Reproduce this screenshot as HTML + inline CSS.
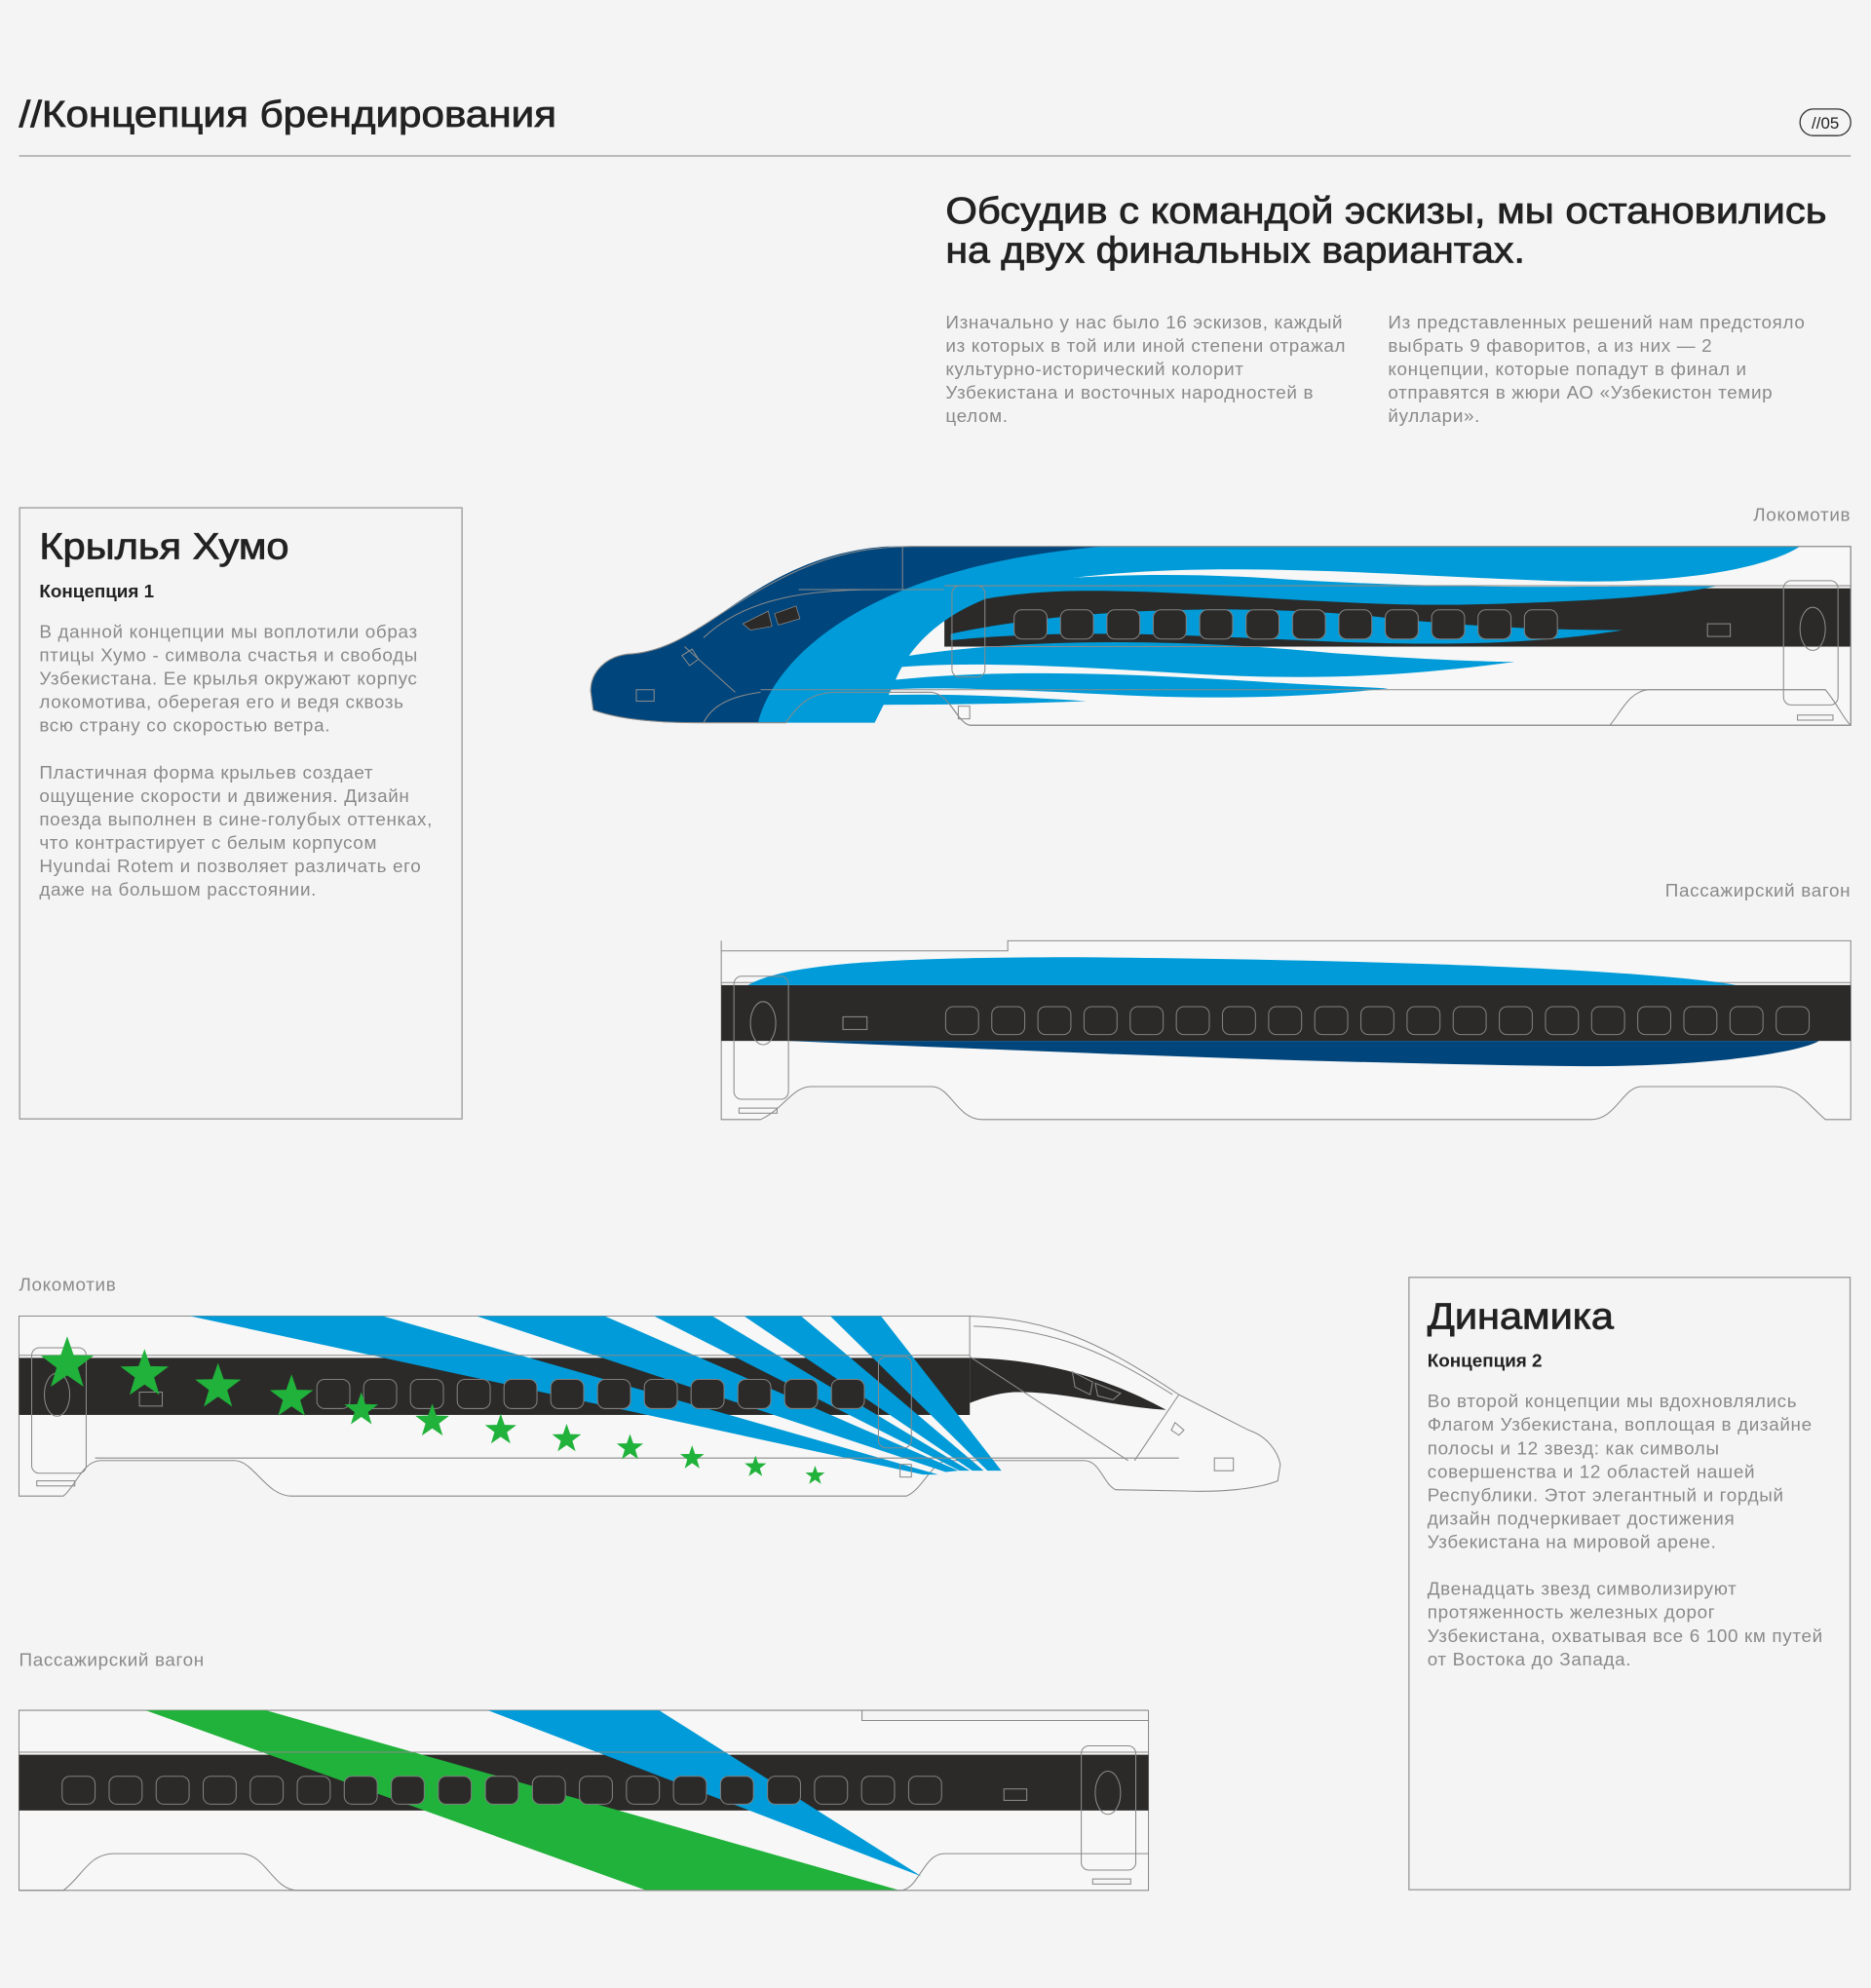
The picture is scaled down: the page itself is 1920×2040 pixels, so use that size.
<!DOCTYPE html>
<html><head><meta charset="utf-8"><style>
html,body{margin:0;padding:0;background:#f4f4f4;}
svg{display:block}
text{font-family:"Liberation Sans",sans-serif;}
.b{font-size:14.5px;fill:#8a8a8a;letter-spacing:0.5px}
.h{stroke:#222;stroke-width:0.6}
.o{fill:none;stroke:#8a8a8a;stroke-width:0.8}
.w{fill:#2b2a29;stroke:#808080;stroke-width:0.8}
</style></head><body>
<svg width="1920" height="2040" viewBox="0 0 1476 1568" preserveAspectRatio="none" xmlns="http://www.w3.org/2000/svg">
<defs>
<path id="st" d="M0,-1 L.235,-.324 L.951,-.309 L.380,.124 L.588,.809 L0,.4 L-.588,.809 L-.380,.124 L-.951,-.309 L-.235,-.324Z" fill="#20b23a"/>
</defs>
<rect width="1476" height="1568" fill="#f4f4f4"/>
<text x="15" y="100" font-size="29" fill="#222" class="h" textLength="424" lengthAdjust="spacingAndGlyphs">//Концепция брендирования</text>
<line x1="15" y1="123" x2="1460" y2="123" stroke="#999" stroke-width="1"/>
<rect x="1420" y="86" width="40" height="21" rx="10.5" fill="none" stroke="#333" stroke-width="1"/>
<text x="1440" y="101.5" font-size="13" fill="#222" text-anchor="middle">//05</text>
<text x="746" y="176" font-size="29" fill="#222" class="h" textLength="695" lengthAdjust="spacingAndGlyphs">Обсудив с командой эскизы, мы остановились</text>
<text x="746" y="207" font-size="29" fill="#222" class="h" textLength="457" lengthAdjust="spacingAndGlyphs">на двух финальных вариантах.</text>
<g class="b">
<text x="746" y="259">Изначально у нас было 16 эскизов, каждый</text>
<text x="746" y="277.5">из которых в той или иной степени отражал</text>
<text x="746" y="296">культурно-исторический колорит</text>
<text x="746" y="314.5">Узбекистана и восточных народностей в</text>
<text x="746" y="333">целом.</text>
<text x="1095" y="259">Из представленных решений нам предстояло</text>
<text x="1095" y="277.5">выбрать 9 фаворитов, а из них — 2</text>
<text x="1095" y="296">концепции, которые попадут в финал и</text>
<text x="1095" y="314.5">отправятся в жюри АО «Узбекистон темир</text>
<text x="1095" y="333">йуллари».</text>
</g>
<rect x="15.5" y="400.5" width="349" height="482" fill="none" stroke="#999" stroke-width="1"/>
<text x="31" y="441" font-size="29" fill="#222" class="h" textLength="197" lengthAdjust="spacingAndGlyphs">Крылья Хумо</text>
<text x="31" y="471" font-size="14.5" fill="#222" style="font-weight:600">Концепция 1</text>
<g class="b">
<text x="31" y="503">В данной концепции мы воплотили образ</text>
<text x="31" y="521.5">птицы Хумо - символа счастья и свободы</text>
<text x="31" y="540">Узбекистана. Ее крылья окружают корпус</text>
<text x="31" y="558.5">локомотива, оберегая его и ведя сквозь</text>
<text x="31" y="577">всю страну со скоростью ветра.</text>
<text x="31" y="614">Пластичная форма крыльев создает</text>
<text x="31" y="632.5">ощущение скорости и движения. Дизайн</text>
<text x="31" y="651">поезда выполнен в сине-голубых оттенках,</text>
<text x="31" y="669.5">что контрастирует с белым корпусом</text>
<text x="31" y="688">Hyundai Rotem и позволяет различать его</text>
<text x="31" y="706.5">даже на большом расстоянии.</text>
</g>
<rect x="1111.5" y="1007.5" width="348" height="483" fill="none" stroke="#999" stroke-width="1"/>
<text x="1126" y="1048" font-size="29" fill="#222" class="h" textLength="147" lengthAdjust="spacingAndGlyphs">Динамика</text>
<text x="1126" y="1078" font-size="14.5" fill="#222" style="font-weight:600">Концепция 2</text>
<g class="b">
<text x="1126" y="1110">Во второй концепции мы вдохновлялись</text>
<text x="1126" y="1128.5">Флагом Узбекистана, воплощая в дизайне</text>
<text x="1126" y="1147">полосы и 12 звезд: как символы</text>
<text x="1126" y="1165.5">совершенства и 12 областей нашей</text>
<text x="1126" y="1184">Республики. Этот элегантный и гордый</text>
<text x="1126" y="1202.5">дизайн подчеркивает достижения</text>
<text x="1126" y="1221">Узбекистана на мировой арене.</text>
<text x="1126" y="1258">Двенадцать звезд символизируют</text>
<text x="1126" y="1276.5">протяженность железных дорог</text>
<text x="1126" y="1295">Узбекистана, охватывая все 6 100 км путей</text>
<text x="1126" y="1313.5">от Востока до Запада.</text>
</g>
<text class="b" x="1460" y="411" text-anchor="end">Локомотив</text>
<text class="b" x="1460" y="707" text-anchor="end">Пассажирский вагон</text>
<text class="b" x="15" y="1018">Локомотив</text>
<text class="b" x="15" y="1314">Пассажирский вагон</text>

<!-- LOCO 1 -->
<g>
<path d="M1460 431 L720 431 C660 431 620 450 560 490 C540 503 520 515 495 516 C478 518 466 530 466 545 L468 560 C490 568 520 570 550 570 L620 570 C630 555 640 546 660 546 L735 546 C750 548 755 570 765 572 L1460 572 Z" fill="#f7f7f7" stroke="#8a8a8a" stroke-width="0.8"/>
<path d="M1270 572 C1280 560 1285 546 1300 544 L1440 544 C1450 556 1455 568 1460 572" class="o"/>
<rect x="745" y="464" width="715" height="46" fill="#2b2a29"/>
<path d="M466 545 C466 530 478 518 495 516 C520 515 540 503 560 490 C600 462 640 435 700 431 L880 431 C760 458 650 510 600 570 L550 570 C520 570 490 568 468 560 Z" fill="#00457c"/>
<path d="M598 570 C612 515 690 446 870 431 L1420 431 C1395 447 1330 462 1220 458 C1100 454 950 440 830 458 C760 470 720 500 705 540 L690 570 Z" fill="#009bd8"/>
<path d="M745 470 C800 455 900 450 1000 456 C1150 466 1280 462 1355 462 C1320 470 1250 475 1150 477 C1050 478 950 466 860 466 C810 466 770 472 745 480 Z" fill="#009bd8"/>
<path d="M750 500 C850 478 1000 476 1100 488 C1180 496 1240 497 1280 497 C1220 507 1150 510 1050 506 C950 502 850 495 750 505 Z" fill="#009bd8"/>
<path d="M690 522 C800 500 950 505 1050 515 C1120 520 1170 522 1195 522 C1120 532 1050 537 950 532 C850 526 760 520 690 528 Z" fill="#009bd8"/>
<path d="M675 540 C780 525 900 532 1000 538 C1050 541 1080 542 1095 543 C1030 550 960 552 880 548 C800 544 720 540 675 546 Z" fill="#009bd8"/>
<path d="M640 552 C700 545 780 548 857 553 C780 556 700 556 640 556 Z" fill="#009bd8"/>
<path d="M1460 431 L720 431 C660 431 620 450 560 490 C540 503 520 515 495 516 C478 518 466 530 466 545 L468 560 C490 568 520 570 550 570 L620 570 C630 555 640 546 660 546 L735 546 C750 548 755 570 765 572 L1460 572 Z" class="o"/>
<path d="M600 544 L1440 544 M745 462 L1460 462 M745 510 L1460 510 M712 431 L712 465 M630 465 L745 465 M555 503 C590 470 640 465 700 465 M540 510 L580 546 M600 546 C570 550 560 560 555 570" class="o"/>
<rect x="1407" y="458" width="43" height="98" rx="6" class="o"/>
<ellipse cx="1430" cy="496" rx="10" ry="17" class="o"/>
<rect x="1347" y="492" width="18" height="10" class="o"/>
<rect x="751" y="462" width="26" height="72" rx="6" class="o"/>
<rect x="502" y="544" width="14" height="9" class="o"/>
<rect x="1418" y="564" width="28" height="4" class="o"/>
<rect x="756" y="557" width="9" height="10" class="o"/>
<path d="M586 492 L606 482 L609 494 L592 497 Z M611 484 L628 478 L631 488 L614 493 Z" fill="#2b2a29" stroke="#888" stroke-width="0.6"/>
<path d="M538 517 L546 512 L551 520 L544 525 Z" class="o"/>
<g class="w">
<rect x="800" y="481" width="26" height="23" rx="6"/><rect x="836.6" y="481" width="26" height="23" rx="6"/><rect x="873.2" y="481" width="26" height="23" rx="6"/><rect x="909.8" y="481" width="26" height="23" rx="6"/><rect x="946.4" y="481" width="26" height="23" rx="6"/><rect x="983" y="481" width="26" height="23" rx="6"/><rect x="1019.6" y="481" width="26" height="23" rx="6"/><rect x="1056.2" y="481" width="26" height="23" rx="6"/><rect x="1092.8" y="481" width="26" height="23" rx="6"/><rect x="1129.4" y="481" width="26" height="23" rx="6"/><rect x="1166" y="481" width="26" height="23" rx="6"/><rect x="1202.6" y="481" width="26" height="23" rx="6"/>
</g>
</g>

<!-- WAGON 1 -->
<g>
<path d="M569 750 L795 750 L795 742 L1460 742 L1460 883 L1440 883 C1425 870 1418 857 1400 857 L1295 857 C1280 857 1275 883 1255 883 L775 883 C755 883 750 857 735 857 L640 857 C625 857 618 875 600 883 L569 883 Z" fill="#f7f7f7" stroke="#8a8a8a" stroke-width="0.8"/>
<line x1="569" y1="742" x2="569" y2="750" class="o"/>
<line x1="569" y1="775" x2="1460" y2="775" class="o"/>
<rect x="569" y="777" width="891" height="44" fill="#2b2a29"/>
<path d="M590 777 C620 760 700 755 850 755 C1100 757 1300 765 1370 777 Z" fill="#009bd8"/>
<path d="M620 821 C800 828 1000 838 1250 841 C1350 841 1420 830 1435 821 Z" fill="#00457c"/>
<rect x="579" y="770" width="43" height="97" rx="6" class="o"/>
<ellipse cx="602" cy="807" rx="10" ry="17" class="o"/>
<rect x="665" y="802" width="19" height="10" class="o"/>
<rect x="583" y="874" width="30" height="4" class="o"/>
<g class="w">
<rect x="746" y="794" width="26" height="22" rx="6"/><rect x="782.4" y="794" width="26" height="22" rx="6"/><rect x="818.8" y="794" width="26" height="22" rx="6"/><rect x="855.2" y="794" width="26" height="22" rx="6"/><rect x="891.6" y="794" width="26" height="22" rx="6"/><rect x="928" y="794" width="26" height="22" rx="6"/><rect x="964.4" y="794" width="26" height="22" rx="6"/><rect x="1000.8" y="794" width="26" height="22" rx="6"/><rect x="1037.2" y="794" width="26" height="22" rx="6"/><rect x="1073.6" y="794" width="26" height="22" rx="6"/><rect x="1110" y="794" width="26" height="22" rx="6"/><rect x="1146.4" y="794" width="26" height="22" rx="6"/><rect x="1182.8" y="794" width="26" height="22" rx="6"/><rect x="1219.2" y="794" width="26" height="22" rx="6"/><rect x="1255.6" y="794" width="26" height="22" rx="6"/><rect x="1292" y="794" width="26" height="22" rx="6"/><rect x="1328.4" y="794" width="26" height="22" rx="6"/><rect x="1364.8" y="794" width="26" height="22" rx="6"/><rect x="1401.2" y="794" width="26" height="22" rx="6"/>
</g>
</g>

<!-- LOCO 2 -->
<g>
<path d="M15 1038 L765 1038 C830 1040 870 1060 930 1100 L985 1128 C1000 1133 1008 1145 1010 1155 L1008 1168 C990 1175 960 1177 935 1176 L880 1175 C870 1170 868 1152 855 1152 L748 1152 C735 1152 728 1175 715 1180 L230 1180 C210 1180 200 1152 185 1152 L80 1152 C65 1152 60 1172 50 1180 L15 1180 Z" fill="#f7f7f7" stroke="#8a8a8a" stroke-width="0.8"/>
<rect x="15" y="1071" width="750" height="45" fill="#2b2a29"/>
<path d="M765 1071 C820 1072 870 1085 920 1112 C880 1110 840 1097 800 1098 C770 1100 750 1116 740 1116 L765 1116 Z" fill="#2b2a29"/>
<path d="M150 1038 L302 1038 L740 1163 L728 1163 Z" fill="#009bd8"/>
<path d="M376 1038 L477 1038 L756 1160 L746 1161 Z" fill="#009bd8"/>
<path d="M516 1038 L562 1038 L765 1160 L757 1160 Z" fill="#009bd8"/>
<path d="M587 1038 L632 1038 L776 1160 L767 1160 Z" fill="#009bd8"/>
<path d="M655 1038 L695 1038 L790 1160 L779 1160 Z" fill="#009bd8"/>
<line x1="15" y1="1069" x2="765" y2="1069" class="o"/>
<line x1="75" y1="1150" x2="930" y2="1150" class="o"/>
<path d="M765 1038 L765 1070 M768 1046 C830 1048 870 1065 925 1100 M765 1070 L890 1152 M930 1100 L895 1152" class="o"/>
<rect x="25" y="1063" width="43" height="99" rx="6" class="o"/>
<ellipse cx="45" cy="1100" rx="10" ry="17" class="o"/>
<rect x="110" y="1098" width="18" height="11" class="o"/>
<rect x="29" y="1168" width="30" height="4" class="o"/>
<rect x="693" y="1070" width="26" height="72" rx="6" class="o"/>
<rect x="958" y="1150" width="15" height="10" class="o"/>
<rect x="710" y="1155" width="9" height="10" class="o"/>
<path d="M846 1082 L862 1090 L860 1100 L848 1094 Z M864 1091 L884 1099 L878 1104 L866 1101 Z" class="o"/>
<path d="M927 1122 L934 1128 L930 1132 L924 1128 Z" class="o"/>
<g class="w">
<rect x="250" y="1088" width="26" height="23" rx="6"/><rect x="286.9" y="1088" width="26" height="23" rx="6"/><rect x="323.8" y="1088" width="26" height="23" rx="6"/><rect x="360.7" y="1088" width="26" height="23" rx="6"/><rect x="397.6" y="1088" width="26" height="23" rx="6"/><rect x="434.5" y="1088" width="26" height="23" rx="6"/><rect x="471.4" y="1088" width="26" height="23" rx="6"/><rect x="508.3" y="1088" width="26" height="23" rx="6"/><rect x="545.2" y="1088" width="26" height="23" rx="6"/><rect x="582.1" y="1088" width="26" height="23" rx="6"/><rect x="619" y="1088" width="26" height="23" rx="6"/><rect x="655.9" y="1088" width="26" height="23" rx="6"/>
</g>
<use href="#st" transform="translate(53 1076) scale(22)"/>
<use href="#st" transform="translate(114 1084) scale(20)"/>
<use href="#st" transform="translate(172 1094) scale(19)"/>
<use href="#st" transform="translate(230 1102) scale(18)"/>
<use href="#st" transform="translate(285 1112) scale(14)"/>
<use href="#st" transform="translate(341 1121) scale(14)"/>
<use href="#st" transform="translate(395 1128) scale(13)"/>
<use href="#st" transform="translate(447 1135) scale(12)"/>
<use href="#st" transform="translate(497 1142) scale(11)"/>
<use href="#st" transform="translate(546 1150) scale(10)"/>
<use href="#st" transform="translate(596 1157) scale(9)"/>
<use href="#st" transform="translate(643 1164) scale(8)"/>
</g>

<!-- WAGON 2 -->
<g>
<path d="M15 1349 L680 1349 L680 1357 L906 1357 L906 1491 L15 1491 Z" fill="#f7f7f7" stroke="#8a8a8a" stroke-width="0.8"/>
<rect x="15" y="1384" width="891" height="44" fill="#2b2a29"/>
<path d="M115 1349 L210 1349 L710 1491 L510 1491 Z" fill="#20b23a"/>
<path d="M385 1349 L520 1349 L727 1480 Z" fill="#009bd8"/>
<path d="M15 1491 L50 1491 C65 1480 70 1462 90 1462 L190 1462 C210 1462 215 1491 235 1491 L710 1491 C725 1491 728 1462 745 1462 L906 1462" class="o"/>
<line x1="15" y1="1382" x2="906" y2="1382" class="o"/>
<line x1="680" y1="1349" x2="906" y2="1349" class="o"/>
<line x1="906" y1="1349" x2="906" y2="1357" class="o"/>
<rect x="853" y="1377" width="43" height="98" rx="6" class="o"/>
<ellipse cx="874" cy="1414" rx="10" ry="17" class="o"/>
<rect x="792" y="1411" width="18" height="9" class="o"/>
<rect x="862" y="1482" width="30" height="4" class="o"/>
<g class="w">
<rect x="49" y="1401" width="26" height="22" rx="6"/><rect x="86.1" y="1401" width="26" height="22" rx="6"/><rect x="123.2" y="1401" width="26" height="22" rx="6"/><rect x="160.3" y="1401" width="26" height="22" rx="6"/><rect x="197.4" y="1401" width="26" height="22" rx="6"/><rect x="234.5" y="1401" width="26" height="22" rx="6"/><rect x="271.6" y="1401" width="26" height="22" rx="6"/><rect x="308.7" y="1401" width="26" height="22" rx="6"/><rect x="345.8" y="1401" width="26" height="22" rx="6"/><rect x="382.9" y="1401" width="26" height="22" rx="6"/><rect x="420" y="1401" width="26" height="22" rx="6"/><rect x="457.1" y="1401" width="26" height="22" rx="6"/><rect x="494.2" y="1401" width="26" height="22" rx="6"/><rect x="531.3" y="1401" width="26" height="22" rx="6"/><rect x="568.4" y="1401" width="26" height="22" rx="6"/><rect x="605.5" y="1401" width="26" height="22" rx="6"/><rect x="642.6" y="1401" width="26" height="22" rx="6"/><rect x="679.7" y="1401" width="26" height="22" rx="6"/><rect x="716.8" y="1401" width="26" height="22" rx="6"/>
</g>
</g>
</svg>
</body></html>
